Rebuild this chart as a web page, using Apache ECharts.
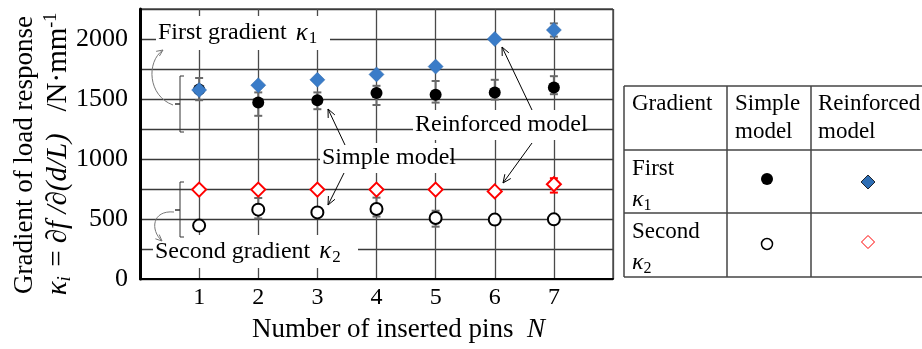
<!DOCTYPE html>
<html>
<head>
<meta charset="utf-8">
<script src="https://cdn.jsdelivr.net/npm/echarts@6/dist/echarts.min.js"></script>
<style>html,body{margin:0;padding:0;background:#fff;}#c{width:922px;height:349px;}</style>
</head>
<body>
<div id="c"></div>
<script>
// ---- data ----
const N = [1, 2, 3, 4, 5, 6, 7];
const simpleK1   = [1580, 1470, 1490, 1550, 1535, 1555, 1595];
const simpleK1Lo = [1490, 1360, 1415, 1450, 1470, 1495, 1540];
const simpleK1Hi = [1675, 1555, 1555, 1610, 1650, 1660, 1690];
const reinfK1    = [1575, 1615, 1660, 1705, 1770, 2000, 2075];
const reinfK1Lo  = [null, null, null, null, null, null, 2020];
const reinfK1Hi  = [null, null, null, null, null, null, 2130];
const simpleK2   = [445, 578, 555, 583, 508, 495, 497];
const simpleK2Lo = [430, 505, 525, 520, 436, 455, 475];
const simpleK2Hi = [460, 675, 585, 678, 569, 535, 520];
const reinfK2    = [745, 745, 745, 745, 745, 730, 790];
const reinfK2Lo  = [null, null, null, null, null, null, 720];
const reinfK2Hi  = [null, null, null, null, null, null, 840];
const yTicks = [0, 500, 1000, 1500, 2000];
const xTicks = [1, 2, 3, 4, 5, 6, 7];

const FONT = "Liberation Serif";
const chart = echarts.init(document.getElementById('c'));

function pts(vals) { return N.map((n, i) => [n, vals[i]]); }
function errData(lo, hi) {
  const out = [];
  N.forEach((n, i) => { if (lo[i] != null && hi[i] != null) out.push([n, lo[i], hi[i]]); });
  return out;
}
function errSeries(lo, hi, color) {
  return {
    type: 'custom', z: 3,
    data: errData(lo, hi),
    encode: { x: 0, y: [1, 2] },
    renderItem: function (params, api) {
      const a = api.coord([api.value(0), api.value(1)]);
      const b = api.coord([api.value(0), api.value(2)]);
      const hw = 4;
      const st = { stroke: color, lineWidth: 2 };
      return { type: 'group', children: [
        { type: 'line', shape: { x1: a[0], y1: a[1], x2: b[0], y2: b[1] }, style: st },
        { type: 'line', shape: { x1: a[0] - hw, y1: a[1], x2: a[0] + hw, y2: a[1] }, style: st },
        { type: 'line', shape: { x1: b[0] - hw, y1: b[1], x2: b[0] + hw, y2: b[1] }, style: st }
      ]};
    }
  };
}
function arrowHead(x1, y1, x2, y2, len, color) {
  const ang = Math.atan2(y2 - y1, x2 - x1);
  const a = 0.42;
  return { type: 'polyline', z: 120, shape: { points: [
    [x2 - len * Math.cos(ang - a), y2 - len * Math.sin(ang - a)],
    [x2, y2],
    [x2 - len * Math.cos(ang + a), y2 - len * Math.sin(ang + a)]
  ]}, style: { stroke: color, fill: null, lineWidth: 1 } };
}
function arrow(x1, y1, x2, y2) {
  return [
    { type: 'line', z: 120, shape: { x1, y1, x2, y2 }, style: { stroke: '#000', lineWidth: 1 } },
    arrowHead(x1, y1, x2, y2, 9, '#000')
  ];
}
function curvedArrow(p0, c1, c2, p1) {
  return [
    { type: 'bezierCurve', z: 120, shape: { x1: p0[0], y1: p0[1], cpx1: c1[0], cpy1: c1[1], cpx2: c2[0], cpy2: c2[1], x2: p1[0], y2: p1[1] },
      style: { stroke: '#777', lineWidth: 1, fill: null } },
    arrowHead(c2[0], c2[1], p1[0], p1[1], 7, '#777')
  ];
}
function bracket(x, y1, y2) {
  return { type: 'polyline', z: 120, shape: { points: [[x + 4, y1], [x, y1], [x, y2], [x + 4, y2]] },
    style: { stroke: '#333', lineWidth: 1, fill: null } };
}
function bracketTick(x, y) {
  return { type: 'line', z: 120, shape: { x1: x - 5, y1: y, x2: x, y2: y }, style: { stroke: '#333', lineWidth: 1.5 } };
}
const richBase = {
  it: { fontFamily: FONT, fontSize: 25, fontStyle: 'italic', color: '#000', padding: [0, 0, 0, 3] },
  sub: { fontFamily: FONT, fontSize: 17, color: '#000', padding: [12, 0, 0, 1] }
};
function labelBox(x, y, text, w, h) {
  return [
    { type: 'rect', z: 110, shape: { x: x, y: y, width: w, height: h }, style: { fill: '#fff' } },
    { type: 'text', z: 115, x: x + 2, y: y + h / 2, style: { text: text, rich: richBase, verticalAlign: 'middle', align: 'left',
      fill: '#000', fontFamily: FONT, fontSize: 24 } }
  ];
}

// table
const TCOL = '#444';
const tbl = [];
function tline(x1, y1, x2, y2) { tbl.push({ type: 'line', z: 100, shape: { x1, y1, x2, y2 }, style: { stroke: TCOL, lineWidth: 1.5 } }); }
tline(624, 86, 922, 86); tline(624, 277, 922, 277); tline(624, 150, 922, 150); tline(624, 213, 922, 213);
tline(624, 86, 624, 277); tline(727, 86, 727, 277); tline(811, 86, 811, 277);
const trich = {
  it: { fontFamily: FONT, fontSize: 24, fontStyle: 'italic', color: '#000' },
  sub: { fontFamily: FONT, fontSize: 16, color: '#000', padding: [12, 0, 0, 0] }
};
function ttext(x, y, txt) {
  tbl.push({ type: 'text', z: 101, x: x, y: y, style: { text: txt, rich: trich, fontFamily: FONT, fontSize: 23, fill: '#000', verticalAlign: 'middle', align: 'left' } });
}
ttext(632, 104, 'Gradient'); ttext(735, 104, 'Simple'); ttext(735, 132, 'model');
ttext(818, 104, 'Reinforced'); ttext(818, 132, 'model');
ttext(632, 169, 'First'); ttext(632, 200, '{it|κ}{sub|1}');
ttext(632, 232, 'Second'); ttext(632, 263, '{it|κ}{sub|2}');
tbl.push({ type: 'circle', z: 101, shape: { cx: 767, cy: 179, r: 6 }, style: { fill: '#000' } });
tbl.push({ type: 'polygon', z: 101, shape: { points: [[868, 175], [875, 182], [868, 189], [861, 182]] }, style: { fill: '#2f6fb5', stroke: '#000', lineWidth: 0.8 } });
tbl.push({ type: 'circle', z: 101, shape: { cx: 767, cy: 244, r: 5.5 }, style: { fill: '#fff', stroke: '#000', lineWidth: 1.5 } });
tbl.push({ type: 'polygon', z: 101, shape: { points: [[868, 235.5], [874.5, 242], [868, 248.5], [861.5, 242]] }, style: { fill: '#fff', stroke: '#f00', lineWidth: 1 } });

const graphics = [].concat(
  labelBox(156, 16, 'First gradient {it|κ}{sub|1}', 174, 34),
  labelBox(320, 143, 'Simple model', 130, 30),
  labelBox(413, 110, 'Reinforced model', 170, 30),
  labelBox(153, 235, 'Second gradient {it|κ}{sub|2}', 205, 33),
  [bracket(180, 76, 132), bracketTick(180, 104), bracket(180, 182, 237), bracketTick(180, 210)],
  curvedArrow([173, 105], [148, 96], [146, 62], [163, 50]),
  curvedArrow([174, 212], [152, 210], [150, 230], [162, 241]),
  arrow(345, 145, 328, 109),
  arrow(344, 173, 328, 205),
  arrow(532, 110, 502, 47),
  arrow(532, 143, 503, 183),
  tbl,
  [
    { type: 'text', z: 100, x: 25, y: 155, rotation: Math.PI / 2,
      style: { text: 'Gradient of load response', fontFamily: FONT, fontSize: 27, fill: '#000', align: 'center', verticalAlign: 'middle' } },
    { type: 'text', z: 100, x: 58, y: 154, rotation: Math.PI / 2,
      style: { text: '{it|κ}{subi|i}{n| = }{it|∂f /∂(d/L)}{n|   /N·mm}{sup|-1}', align: 'center', verticalAlign: 'middle',
        fontFamily: FONT, fontSize: 29,
        rich: {
          n: { fontFamily: FONT, fontSize: 29, color: '#000' },
          it: { fontFamily: FONT, fontSize: 29, fontStyle: 'italic', color: '#000' },
          subi: { fontFamily: FONT, fontSize: 19, fontStyle: 'italic', color: '#000', padding: [13, 2, 0, 0] },
          sup: { fontFamily: FONT, fontSize: 18, color: '#000', padding: [0, 0, 13, 0] }
        } } }
  ]
);

chart.setOption({
  animation: false,
  backgroundColor: '#fff',
  grid: { left: 140, top: 9, width: 473, height: 270, show: true, borderColor: '#000', borderWidth: 1, containLabel: false },
  xAxis: {
    type: 'value', min: 0, max: 8, interval: 1,
    axisLine: { show: true, lineStyle: { color: '#000', width: 2 } },
    axisTick: { show: false },
    splitLine: { show: true, lineStyle: { color: '#4a4a4a', width: 1.3 } },
    axisLabel: { fontFamily: FONT, fontSize: 24, color: '#000', margin: 7,
      formatter: v => (xTicks.indexOf(v) >= 0 ? String(v) : '') },
    name: 'Number of inserted pins  {it|N}', nameLocation: 'middle', nameGap: 37,
    nameTextStyle: { fontFamily: FONT, fontSize: 27, color: '#000', padding: [0, 0, 0, 44],
      rich: { it: { fontFamily: FONT, fontSize: 27, fontStyle: 'italic', color: '#000' } } }
  },
  yAxis: {
    type: 'value', min: 0, max: 2250, interval: 250,
    axisLine: { show: true, lineStyle: { color: '#000', width: 3 } },
    axisTick: { show: false },
    splitLine: { show: true, lineStyle: { color: '#3a3a3a', width: 1.3 } },
    axisLabel: { fontFamily: FONT, fontSize: 26, color: '#000', margin: 12,
      formatter: v => (yTicks.indexOf(v) >= 0 ? String(v) : '') }
  },
  series: [
    errSeries(simpleK1Lo, simpleK1Hi, '#6a6a6a'),
    errSeries(reinfK1Lo, reinfK1Hi, '#6a6a6a'),
    errSeries(simpleK2Lo, simpleK2Hi, '#6a6a6a'),
    errSeries(reinfK2Lo, reinfK2Hi, '#ff0000'),
    { name: 'Simple model κ1', type: 'scatter', z: 5, symbol: 'circle', symbolSize: 12,
      itemStyle: { color: '#000', opacity: 1 }, data: pts(simpleK1) },
    { name: 'Reinforced model κ1', type: 'scatter', z: 6, symbol: 'diamond', symbolSize: [15, 15],
      itemStyle: { color: '#3a7cc8', borderColor: '#2d67a8', borderWidth: 0.5, opacity: 1 }, data: pts(reinfK1) },
    { name: 'Simple model κ2', type: 'scatter', z: 5, symbol: 'circle', symbolSize: 12,
      itemStyle: { color: '#fff', borderColor: '#000', borderWidth: 2, opacity: 1 }, data: pts(simpleK2) },
    { name: 'Reinforced model κ2', type: 'scatter', z: 6, symbol: 'diamond', symbolSize: [14, 14],
      itemStyle: { color: '#fff', borderColor: '#ff0000', borderWidth: 2, opacity: 1 }, data: pts(reinfK2) }
  ],
  graphic: { elements: graphics }
});
</script>
</body>
</html>
